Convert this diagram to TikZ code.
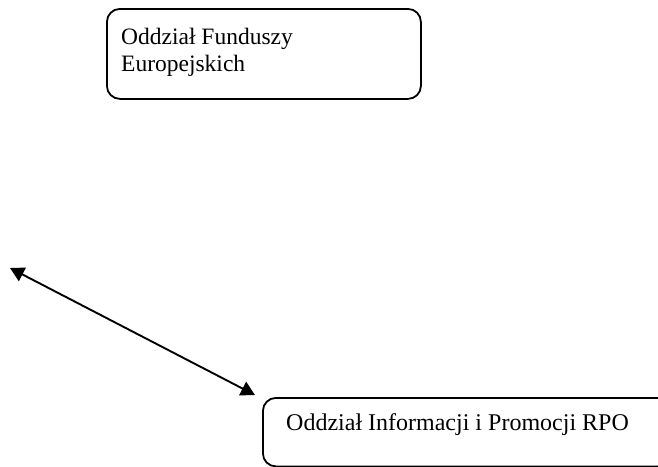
\documentclass[tikz,border=0pt]{standalone}
\usepackage{fontspec}
\setmainfont{Liberation Serif}
\usepackage{xcolor}
\usetikzlibrary{arrows.meta}
\definecolor{ink}{HTML}{000000}
\tikzset{
  unitbox/.style={draw=ink, line width=1.8pt, rounded corners=13pt},
  lbl/.style={text=ink, font=\fontsize{24}{27}\selectfont, inner sep=0pt},
  link/.style={draw=ink, line width=1.9pt,
    {Triangle[length=14pt,width=15pt]}-{Triangle[length=14pt,width=15pt]}}
}

\begin{document}
\begin{tikzpicture}[x=1pt, y=-1pt]
  \useasboundingbox (0,0) rectangle (658,466);
  \clip (0,0) rectangle (658,466);

  % upper unit
  \node[unitbox, anchor=north west, minimum width=314pt, minimum height=90pt]
        (fundusze) at (106,8) {};
  \node[lbl, font=\fontsize{23.5}{27}\selectfont, anchor=north west, align=left]
        (funduszeTxt) at (121,28) {Oddział Funduszy\\Europejskich};

  % lower unit, runs off the page
  \node[unitbox, anchor=north west, minimum width=408pt, minimum height=68.5pt]
        (promocja) at (262,397) {};
  \node[lbl, anchor=base west] (promocjaTxt) at (286,430)
        {Oddział Informacji i Promocji RPO};

  \coordinate (lewy) at (10,268);
  \coordinate (prawy) at (255,395);
  \draw[link] (lewy) -- (prawy);
\end{tikzpicture}
\end{document}
